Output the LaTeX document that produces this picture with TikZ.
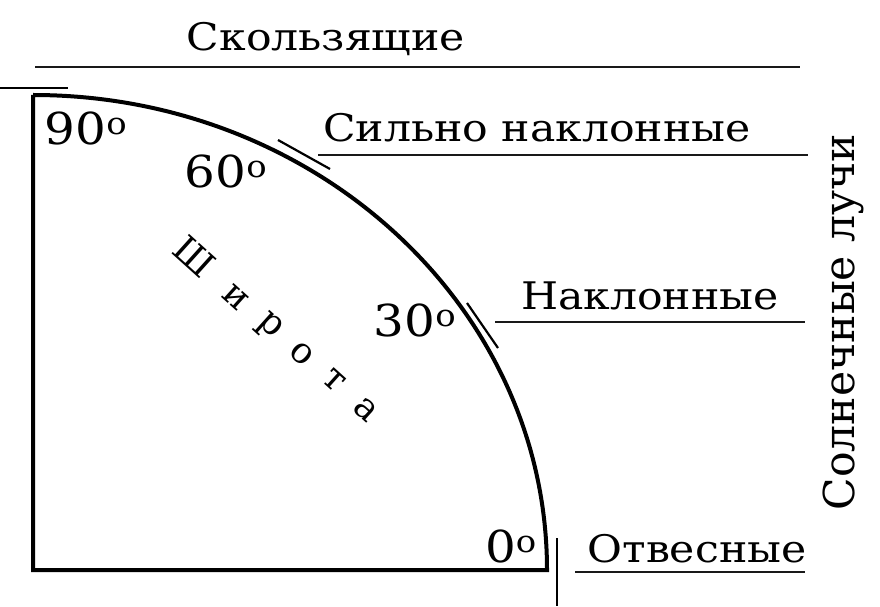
\documentclass[tikz,border=0pt]{standalone}
\usepackage{fontspec}
\setmainfont{DejaVu Serif}
\usetikzlibrary{arrows,shapes,positioning}

\begin{document}
\begin{tikzpicture}[x=1pt,y=1pt]

  \tikzstyle{ray}=[draw=black!90,line width=2pt]
  \tikzstyle{tickline}=[draw=black,line width=2.2pt]
  \tikzstyle{caption}=[inner sep=0pt,xscale=1.12,font=\fontsize{38}{42}\selectfont]
  \tikzstyle{degree}=[inner sep=0pt,xscale=1.1,font=\fontsize{44}{48}\selectfont]
  \tikzstyle{letter}=[inner sep=0pt,rotate=-42,font=\fontsize{36}{40}\selectfont]

  \useasboundingbox (0,0) rectangle (880,606);

  % quarter of the globe
  \draw [line width=4pt,line join=miter] (33,511) -- (33,36) -- (547,36)
        arc [start angle=0,end angle=90,x radius=514,y radius=475];

  % marks on the arc
  \draw [tickline] (0,518) -- (68,518);
  \draw [tickline] (278,466) -- (330,437);
  \draw [tickline] (467,303) -- (498,258);
  \draw [tickline] (557,68) -- (557,0);

  % latitudes
  \node [degree] (d90) at (86,478)  {90\textsuperscript{o}};
  \node [degree] (d60) at (226,435) {60\textsuperscript{o}};
  \node [degree] (d30) at (415,286) {30\textsuperscript{o}};
  \node [degree] (d0)  at (511,60)  {0\textsuperscript{o}};

  \foreach \ch/\x/\y [count=\i] in {Ш/195/350,и/236/308,р/269/279,о/302/252,т/334/226,а/366/196}
    \node [letter] (lat\i) at (\x,\y) {\ch};

  % sun rays
  \node [caption] (glide)  at (326,567) {Скользящие};
  \node [caption] (steep)  at (537,478) {Сильно наклонные};
  \node [caption] (slope)  at (650,310) {Наклонные};
  \node [caption] (plumb)  at (697,57)  {Отвесные};
  \node [caption,xscale=1,yscale=1.12,rotate=90] (sun) at (843,284) {Солнечные лучи};

  \draw [ray] (35,539)  -- (800,539);
  \draw [ray] (318,451) -- (808,451);
  \draw [ray] (495,284) -- (805,284);
  \draw [ray] (575,34)  -- (805,34);

\end{tikzpicture}
\end{document}
